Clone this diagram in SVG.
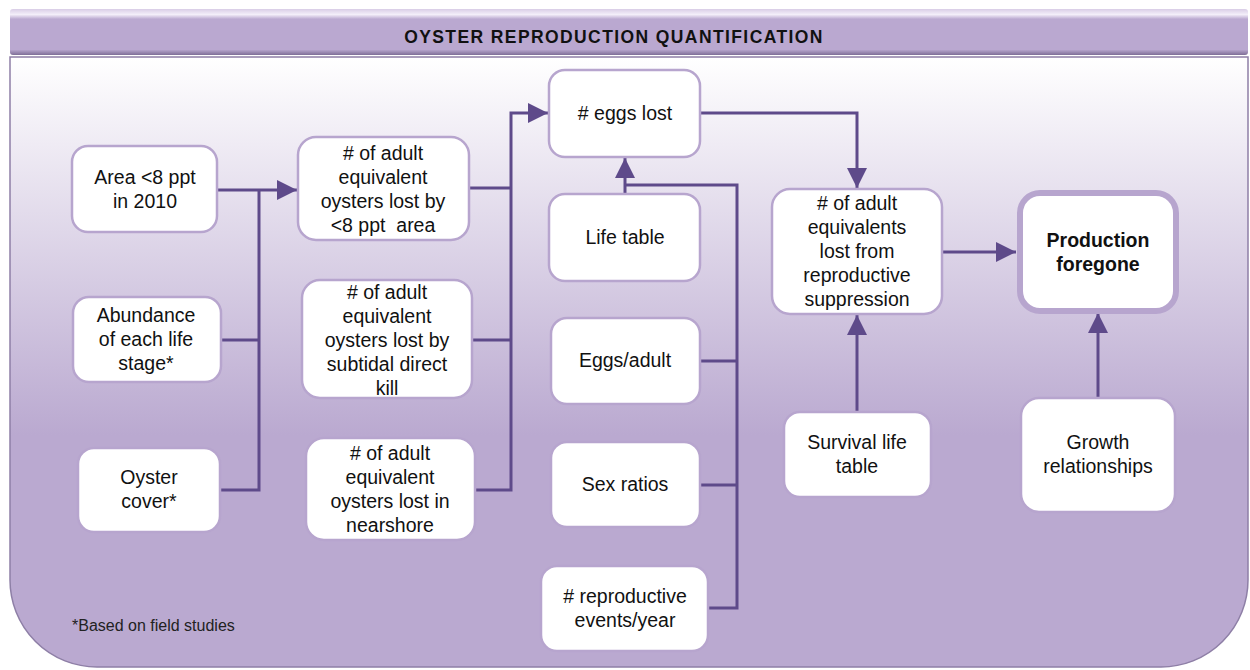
<svg xmlns="http://www.w3.org/2000/svg" width="1250" height="670" viewBox="0 0 1250 670">
<defs>
<linearGradient id="bg" x1="0" y1="57" x2="0" y2="667" gradientUnits="userSpaceOnUse">
<stop offset="0" stop-color="#FFFFFF"/>
<stop offset="0.62" stop-color="#BAA9D0"/>
<stop offset="1" stop-color="#BAA9D0"/>
</linearGradient>
<linearGradient id="tb" x1="0" y1="9" x2="0" y2="55" gradientUnits="userSpaceOnUse">
<stop offset="0" stop-color="#D9CDE6"/>
<stop offset="0.12" stop-color="#F3EEF9"/>
<stop offset="0.22" stop-color="#BAA8D0"/>
<stop offset="0.88" stop-color="#BAA8D0"/>
<stop offset="1" stop-color="#7E6E96"/>
</linearGradient>
<marker id="ah" markerWidth="20" markerHeight="20" viewBox="0 0 20 20" refX="20" refY="10" orient="auto" markerUnits="userSpaceOnUse">
<path d="M0,0 L20,10 L0,20 Z" fill="#5E4A8A"/>
</marker>
</defs>
<style>
.box{fill:#FFFFFF;stroke:#B7A5CE;stroke-width:2.5}
.big{fill:#FFFFFF;stroke:#B7A5CE;stroke-width:6}
.t{font-family:"Liberation Sans",Arial,sans-serif;font-size:19.5px;fill:#111111;text-anchor:middle}
.b{font-weight:bold}
.c{fill:none;stroke:#5E4A8A;stroke-width:3}
</style>
<path d="M10,57 H1248 V580 A87,87 0 0 1 1161,667 H97 A87,87 0 0 1 10,580 Z" fill="url(#bg)" stroke="#8E7FA6" stroke-width="1.5"/>
<rect x="10" y="9" width="1238" height="46" rx="3" fill="url(#tb)"/>
<text x="614" y="43" font-family="'Liberation Sans',Arial,sans-serif" font-size="17.5" font-weight="bold" letter-spacing="1.4" text-anchor="middle" fill="#111111">OYSTER REPRODUCTION QUANTIFICATION</text>
<text x="72" y="631" font-family="'Liberation Sans',Arial,sans-serif" font-size="16" fill="#222222">*Based on field studies</text>

<g id="connectors">
<path class="c" d="M217,190 H297" marker-end="url(#ah)"/>
<path class="c" d="M221,340 H259 M220,490 H259 V190"/>
<path class="c" d="M469,188 H511 M472,340 H511 M475,490 H511 V113 H548" marker-end="url(#ah)"/>
<path class="c" d="M700,113 H857 V188" marker-end="url(#ah)"/>
<path class="c" d="M625,194 V158" marker-end="url(#ah)"/>
<path class="c" d="M625,185 H737 V608 H708 M700,361 H737 M700,485 H737"/>
<path class="c" d="M942,252 H1016" marker-end="url(#ah)"/>
<path class="c" d="M857,412 V315" marker-end="url(#ah)"/>
<path class="c" d="M1098,398 V313" marker-end="url(#ah)"/>
</g>

<g id="n-area"><rect class="box" x="72" y="146" width="145" height="86" rx="16"/>
<text class="t" x="145" y="184">Area &lt;8 ppt</text><text class="t" x="145" y="208">in 2010</text></g>

<g id="n-abundance"><rect class="box" x="73" y="297" width="148" height="85" rx="16"/>
<text class="t" x="146" y="322">Abundance</text><text class="t" x="146" y="346">of each life</text><text class="t" x="146" y="370">stage*</text></g>

<g id="n-cover"><rect class="box" x="78" y="448" width="142" height="84" rx="16"/>
<text class="t" x="149" y="484">Oyster</text><text class="t" x="149" y="508">cover*</text></g>

<g id="n-lost-area"><rect class="box" x="298" y="137" width="171" height="103" rx="18"/>
<text class="t" x="383" y="160">#&#160;of adult</text><text class="t" x="383" y="184">equivalent</text><text class="t" x="383" y="208">oysters lost by</text><text class="t" x="383" y="232">&lt;8 ppt&#160; area</text></g>

<g id="n-lost-subtidal"><rect class="box" x="302" y="280" width="170" height="118" rx="18"/>
<text class="t" x="387" y="299">#&#160;of adult</text><text class="t" x="387" y="323">equivalent</text><text class="t" x="387" y="347">oysters lost by</text><text class="t" x="387" y="371">subtidal direct</text><text class="t" x="387" y="395">kill</text></g>

<g id="n-lost-nearshore"><rect class="box" x="306" y="438" width="169" height="102" rx="18"/>
<text class="t" x="390" y="460">#&#160;of adult</text><text class="t" x="390" y="484">equivalent</text><text class="t" x="390" y="508">oysters lost in</text><text class="t" x="390" y="532">nearshore</text></g>

<g id="n-eggs-lost"><rect class="box" x="549" y="70" width="151" height="87" rx="16"/>
<text class="t" x="625" y="120">#&#160;eggs lost</text></g>

<g id="n-life-table"><rect class="box" x="549" y="194" width="151" height="87" rx="16"/>
<text class="t" x="625" y="244">Life table</text></g>

<g id="n-eggs-adult"><rect class="box" x="551" y="318" width="149" height="86" rx="16"/>
<text class="t" x="625" y="367">Eggs/adult</text></g>

<g id="n-sex"><rect class="box" x="551" y="442" width="149" height="85" rx="16"/>
<text class="t" x="625" y="491">Sex ratios</text></g>

<g id="n-events"><rect class="box" x="541" y="566" width="167" height="85" rx="16"/>
<text class="t" x="625" y="603">#&#160;reproductive</text><text class="t" x="625" y="627">events/year</text></g>

<g id="n-suppression"><rect class="box" x="772" y="189" width="170" height="125" rx="18"/>
<text class="t" x="857" y="210">#&#160;of adult</text><text class="t" x="857" y="234">equivalents</text><text class="t" x="857" y="258">lost from</text><text class="t" x="857" y="282">reproductive</text><text class="t" x="857" y="306">suppression</text></g>

<g id="n-survival"><rect class="box" x="784" y="412" width="147" height="85" rx="16"/>
<text class="t" x="857" y="449">Survival life</text><text class="t" x="857" y="473">table</text></g>

<g id="n-production"><rect class="big" x="1020" y="193" width="156" height="118" rx="20"/>
<text class="t b" x="1098" y="247">Production</text><text class="t b" x="1098" y="271">foregone</text></g>

<g id="n-growth"><rect class="box" x="1021" y="398" width="154" height="114" rx="18"/>
<text class="t" x="1098" y="449">Growth</text><text class="t" x="1098" y="473">relationships</text></g>
</svg>
